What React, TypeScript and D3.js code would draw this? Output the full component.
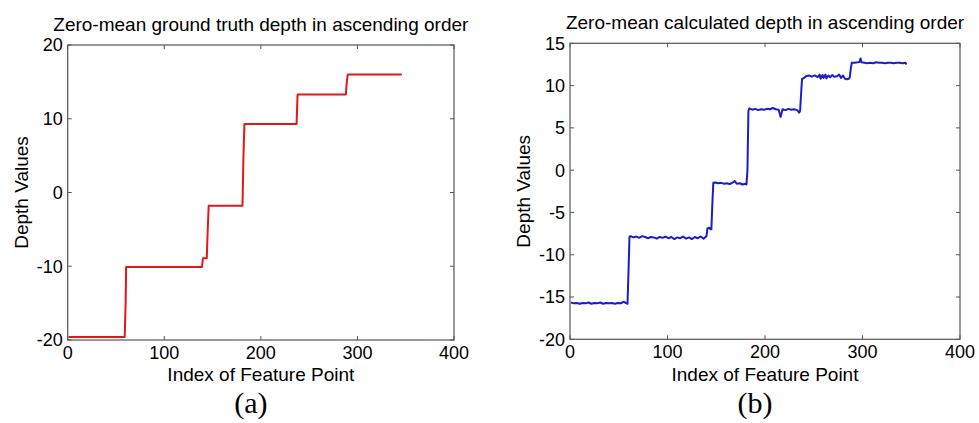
import * as d3 from 'd3';
import React from 'react';

// ground truth depth (red), breakpoints of the step curve
const truthIndex = [1, 59, 60, 60.5, 139, 140, 144, 145, 146, 181, 182, 183, 237, 238, 288, 289, 290, 346];
const truthDepth = [-19.6, -19.6, -15, -10.1, -10.1, -8.9, -8.9, -5, -1.8, -1.8, 5, 9.3, 9.3, 13.3, 13.3, 15, 16, 16];

// calculated depth (blue), noisy
const calcIndex = [
  1, 4, 7, 10, 13, 16, 19, 22, 25, 28, 31, 34, 37, 40, 43, 46, 49, 52, 55, 57, 59,
  60, 61, 62, 65, 68, 71, 74, 77, 80, 83, 86, 89, 92, 95, 98, 101, 104, 107, 110, 113, 116, 119, 122, 125, 128, 131, 134, 137, 140,
  141, 143, 144, 145, 146, 147,
  149, 152, 155, 158, 161, 164, 167, 169, 171, 174, 177, 180, 181, 182, 183, 184,
  187, 190, 193, 196, 199, 202, 205, 208, 211, 214, 216, 218, 221, 224, 227, 230, 233, 235, 236, 237, 238,
  240, 242, 245, 248, 251, 254, 256, 257, 259, 260, 262, 263, 265, 267, 269, 271, 274, 276, 278, 280, 282, 284, 286, 287, 288, 289,
  292, 295, 297, 298, 299, 302, 305, 308, 311, 314, 317, 320, 323, 326, 329, 332, 335, 338, 341, 344, 345,
];
const calcDepth = [
  -15.65, -15.75, -15.7, -15.8, -15.7, -15.75, -15.65, -15.8, -15.7, -15.75, -15.65, -15.8, -15.7, -15.75, -15.7, -15.8, -15.7, -15.75, -15.55, -15.7, -15.8,
  -12, -7.9, -7.8, -7.95, -7.85, -8.0, -7.8, -7.9, -8.05, -7.9, -7.95, -8.1, -7.9, -8.0, -7.85, -8.05, -7.9, -8.15, -7.95, -8.05, -7.85, -8.1, -7.95, -8.15, -7.9, -8.05, -7.85, -8.1, -7.8,
  -6.9, -6.8, -7.0, -7.0, -4, -1.5,
  -1.45, -1.55, -1.5, -1.6, -1.55, -1.65, -1.45, -1.3, -1.6, -1.55, -1.7, -1.6, -1.7, 0, 7.0, 7.3,
  7.15, 7.25, 7.1, 7.2, 7.15, 7.25, 7.2, 7.35, 7.2, 7.15, 6.3, 7.2, 7.1, 7.25, 7.15, 7.2, 7.1, 6.8, 7.0, 9, 10.8,
  10.9, 11.1, 11.2, 11.05, 11.2, 11.0, 11.3, 10.8, 11.25, 10.9, 11.3, 10.85, 11.2, 11.0, 11.25, 11.05, 11.1, 11.3, 10.9, 11.2, 10.8, 10.75, 10.8, 11.0, 12.0, 12.7,
  12.7, 12.75, 12.8, 13.2, 12.75, 12.7, 12.65, 12.7, 12.65, 12.75, 12.7, 12.7, 12.65, 12.7, 12.7, 12.65, 12.7, 12.7, 12.65, 12.7, 12.5,
];

const xTicks = [0, 100, 200, 300, 400];
const truthTicks = [-20, -10, 0, 10, 20];
const calcTicks = [-20, -15, -10, -5, 0, 5, 10, 15];

const sans = '"Liberation Sans", Arial, sans-serif';
const axisColor = '#555';

const Panel = ({ box, xs, ys, yDomain, yTicks, color, title, caption }) => {
  const [left, top, right, bottom] = box;
  const x = d3.scaleLinear().domain([0, 400]).range([left, right]);
  const y = d3.scaleLinear().domain(yDomain).range([bottom, top]);
  const line = d3.line<number>().x(i => x(xs[i])).y(i => y(ys[i]));
  const cx = (left + right) / 2;
  const tl = 4;
  return (
    <g>
      <text x={cx} y={top - 14} textAnchor="middle" fontFamily={sans} fontSize={19}>{title}</text>
      <rect x={left} y={top} width={right - left} height={bottom - top} fill="white" stroke={axisColor} strokeWidth={1.2} />
      {xTicks.map(t => (
        <g key={'x' + t}>
          <line x1={x(t)} x2={x(t)} y1={bottom} y2={bottom - tl} stroke={axisColor} />
          <line x1={x(t)} x2={x(t)} y1={top} y2={top + tl} stroke={axisColor} />
          <text x={x(t)} y={bottom + 19} textAnchor="middle" fontFamily={sans} fontSize={18}>{t}</text>
        </g>
      ))}
      {yTicks.map(t => (
        <g key={'y' + t}>
          <line x1={left} x2={left + tl} y1={y(t)} y2={y(t)} stroke={axisColor} />
          <line x1={right} x2={right - tl} y1={y(t)} y2={y(t)} stroke={axisColor} />
          <text x={left - 5} y={y(t)} dy="0.36em" textAnchor="end" fontFamily={sans} fontSize={18}>{t}</text>
        </g>
      ))}
      <path d={line(d3.range(xs.length))} fill="none" stroke={color} strokeWidth={2} strokeLinejoin="round" />
      <text x={cx} y={381} textAnchor="middle" fontFamily={sans} fontSize={19}>Index of Feature Point</text>
      <text transform={`translate(${left - 47},${(top + bottom) / 2}) rotate(-90)`} textAnchor="middle" dy="0.36em" fontFamily={sans} fontSize={19}>Depth Values</text>
      <text x={cx - 10} y={413} textAnchor="middle" fontFamily='"Liberation Serif", "Times New Roman", serif' fontSize={30}>{caption}</text>
    </g>
  );
};

export default function App() {
  return (
    <svg width={979} height={423} style={{ position: 'absolute', left: 0, top: 0, background: 'white' }}>
      <Panel box={[67.7, 45, 454, 340]} xs={truthIndex} ys={truthDepth} yDomain={[-20, 20]} yTicks={truthTicks}
        color="#e01818" title="Zero-mean ground truth depth in ascending order" caption="(a)" />
      <Panel box={[570, 43.3, 960, 339.3]} xs={calcIndex} ys={calcDepth} yDomain={[-20, 15]} yTicks={calcTicks}
        color="#1c1cc8" title="Zero-mean calculated depth in ascending order" caption="(b)" />
    </svg>
  );
}
